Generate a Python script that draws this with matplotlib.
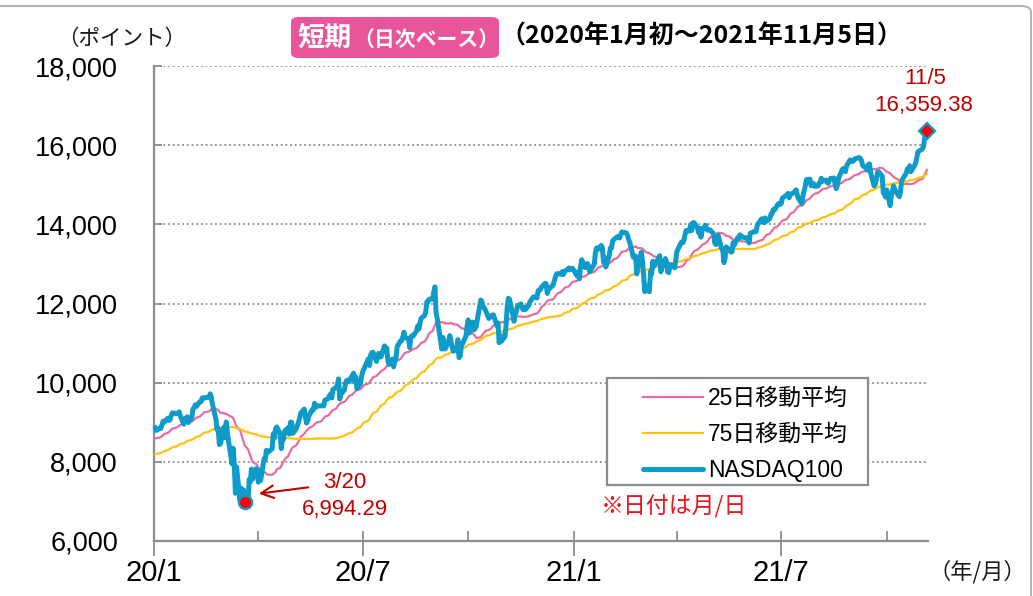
import numpy as np
import pandas as pd
import matplotlib
matplotlib.use("Agg")
import matplotlib.pyplot as plt
import matplotlib.dates as mdates
from matplotlib.patches import FancyBboxPatch, Rectangle
from matplotlib.ticker import FuncFormatter, FixedLocator
import datetime as dt

# ---------------- data (NASDAQ100 daily closes, read/estimated) ----------------
holidays = ["2019-11-28", "2019-12-25", "2020-01-01", "2020-01-20", "2020-02-17",
            "2020-04-10", "2020-05-25", "2020-07-03", "2020-09-07", "2020-11-26",
            "2020-12-25", "2021-01-01", "2021-01-18", "2021-02-15", "2021-04-02",
            "2021-05-31", "2021-07-05", "2021-09-06"]

# warm-up closes before the chart window (used only for moving averages)
c2019_09 = [7880, 7905, 7910, 7905, 7820, 7820, 7710, 7800, 7760, 7670, 7750]
c2019_10 = [7660, 7560, 7640, 7770, 7730, 7590, 7680, 7740, 7840, 7830, 7930, 7910,
            7940, 7860, 7920, 7860, 7880, 7960, 8020, 8100, 8060, 8090, 8080]
c2019_11 = [8160, 8200, 8200, 8190, 8230, 8260, 8240, 8270, 8280, 8290, 8350, 8360,
            8390, 8340, 8320, 8330, 8430, 8460, 8500, 8470]
c2019_12 = [8380, 8340, 8380, 8390, 8470, 8440, 8450, 8490, 8530, 8560, 8640, 8640,
            8640, 8700, 8730, 8760, 8760, 8820, 8810, 8700, 8730]

c2020_01 = [8872, 8793, 8848, 8846, 8935, 9030, 9005, 9100, 9046, 9060, 9173, 9236,
            9217, 9229, 9263, 9153, 8953, 9095, 9094, 9138, 8992]
c2020_02 = [9126, 9335, 9368, 9442, 9402, 9518, 9517, 9613, 9596, 9623, 9630, 9718,
            9629, 9447, 9079, 8812, 8850, 8437, 8462]
c2020_03 = [8877, 8611, 9008, 8738, 8530, 7948, 8344, 7952, 7205, 7873, 7020, 7334,
            7096, 7288, 6994.29, 7006, 7553, 7493, 7815, 7563, 7824, 7813]
c2020_04 = [7487, 7633, 7528, 8079, 8057, 8290, 8238, 8328, 8706, 8597, 8832, 8881,
            8716, 8332, 8587, 8569, 8781, 8860, 8700, 9003, 9000]
c2020_05 = [8719, 8834, 8917, 9001, 9106, 9232, 9335, 9138, 8978, 9041, 9152, 9321,
            9312, 9480, 9376, 9412, 9414, 9427, 9412, 9555]
c2020_06 = [9598, 9670, 9713, 9615, 9824, 9881, 9953, 10094, 9588, 9712, 9813, 9985,
            10053, 10061, 10026, 10182, 10238, 10025, 10147, 9849, 9975, 10157]
c2020_07 = [10279, 10341, 10605, 10434, 10706, 10757, 10768, 10536, 10680, 10742,
            10650, 10653, 10929, 10830, 10872, 10540, 10461, 10600, 10400, 10560,
            10590, 10905]
c2020_08 = [11055, 11063, 11151, 11275, 11139, 11109, 10887, 11155, 11186, 11178,
            11309, 11432, 11355, 11510, 11627, 11695, 11795, 12042, 12043, 12110, 12111]
c2020_09 = [12292, 12421, 11770, 11623, 10848, 11141, 10854, 10853, 11057, 11188,
            11048, 10910, 10793, 10845, 11086, 10633, 10672, 10913, 11117, 11167, 11418]
c2020_10 = [11583, 11255, 11530, 11332, 11365, 11420, 11600, 12088, 12046, 11919,
            11891, 11835, 11622, 11657, 11691, 11701, 11715, 11440, 11510, 11010,
            11190, 11052]
c2020_11 = [11160, 11440, 11900, 12130, 12110, 11710, 11550, 11800, 11780, 11940,
            11990, 11900, 11840, 11900, 11850, 11960, 12050, 12090, 12170, 12140]
c2020_12 = [12324, 12338, 12349, 12414, 12508, 12498, 12254, 12387, 12377, 12465,
            12565, 12659, 12743, 12756, 12740, 12807, 12733, 12805, 12899, 12850,
            12870, 12888]
c2021_01 = [12694, 12802, 12623, 12939, 13105, 12910, 12908, 13011, 12948, 12803,
            12997, 13297, 13404, 13366, 13467, 13420, 13052, 13162, 12925]
c2021_02 = [13210, 13403, 13403, 13580, 13612, 13687, 13695, 13654, 13728, 13807,
            13782, 13716, 13612, 13535, 13169, 13180, 13197, 12745, 12909]
c2021_03 = [13299, 13073, 12709, 12300, 12448, 12299, 12806, 12746, 13067, 12944,
            13091, 13150, 13208, 12800, 12902, 13136, 13047, 12796, 12780, 12977,
            12963, 12903, 13091]
c2021_04 = [13312, 13552, 13535, 13575, 13718, 13845, 13829, 13996, 13845, 14041,
            14041, 13914, 13786, 13900, 13675, 13845, 13980, 13880, 13849, 13860, 13860]
c2021_05 = [13761, 13531, 13488, 13600, 13720, 13385, 13359, 13032, 13133, 13430,
            13354, 13303, 13302, 13535, 13470, 13661, 13657, 13738, 13676, 13687]
c2021_06 = [13642, 13666, 13530, 13773, 13813, 13814, 13812, 13963, 14020, 14142,
            14072, 14040, 14161, 14075, 14140, 14253, 14271, 14369, 14360, 14500,
            14529, 14504]
c2021_07 = [14522, 14663, 14746, 14781, 14672, 14747, 14810, 14826, 14872, 14737,
            14652, 14518, 14731, 14845, 14973, 15129, 15142, 14977, 15026, 15038, 14960]
c2021_08 = [14964, 15042, 15053, 15164, 15091, 15116, 15060, 15036, 15104, 15160,
            15170, 15016, 14900, 14990, 15160, 15372, 15410, 15410, 15330, 15470,
            15626, 15583]
c2021_09 = [15600, 15600, 15653, 15688, 15660, 15610, 15490, 15420, 15370, 15510,
            15525, 15300, 14970, 15010, 15150, 15310, 15330, 15225, 14791, 14780, 14689]
c2021_10 = [14870, 14472, 14740, 14840, 14970, 14880, 14740, 14700, 14820, 15090,
            15150, 15290, 15400, 15390, 15480, 15330, 15470, 15530, 15640, 15810, 15850]
c2021_11 = [15900, 15960, 16150, 16345, 16359.38]

months = [("2019-09-16", "2019-09-30", c2019_09), ("2019-10-01", "2019-10-31", c2019_10),
          ("2019-11-01", "2019-11-30", c2019_11), ("2019-12-01", "2019-12-31", c2019_12),
          ("2020-01-01", "2020-01-31", c2020_01), ("2020-02-01", "2020-02-29", c2020_02),
          ("2020-03-01", "2020-03-31", c2020_03), ("2020-04-01", "2020-04-30", c2020_04),
          ("2020-05-01", "2020-05-31", c2020_05), ("2020-06-01", "2020-06-30", c2020_06),
          ("2020-07-01", "2020-07-31", c2020_07), ("2020-08-01", "2020-08-31", c2020_08),
          ("2020-09-01", "2020-09-30", c2020_09), ("2020-10-01", "2020-10-31", c2020_10),
          ("2020-11-01", "2020-11-30", c2020_11), ("2020-12-01", "2020-12-31", c2020_12),
          ("2021-01-01", "2021-01-31", c2021_01), ("2021-02-01", "2021-02-28", c2021_02),
          ("2021-03-01", "2021-03-31", c2021_03), ("2021-04-01", "2021-04-30", c2021_04),
          ("2021-05-01", "2021-05-31", c2021_05), ("2021-06-01", "2021-06-30", c2021_06),
          ("2021-07-01", "2021-07-31", c2021_07), ("2021-08-01", "2021-08-31", c2021_08),
          ("2021-09-01", "2021-09-30", c2021_09), ("2021-10-01", "2021-10-31", c2021_10),
          ("2021-11-01", "2021-11-05", c2021_11)]

x_tick_dates = ["2020-01-01", "2020-07-01", "2021-01-01", "2021-07-01"]
x_tick_labels = ["20/1", "20/7", "21/1", "21/7"]
x_minor_dates = ["2020-01-01", "2020-04-01", "2020-07-01", "2020-10-01",
                 "2021-01-01", "2021-04-01", "2021-07-01", "2021-10-01"]
y_ticks = [6000, 8000, 10000, 12000, 14000, 16000, 18000]
series_labels = ["25日移動平均", "75日移動平均", "NASDAQ100"]
low_label = ("3/20", "6,994.29")
last_label = ("11/5", "16,359.38")

# ---------------- build series ----------------
dates, vals = [], []
for start, end, v in months:
    d = pd.bdate_range(start, end, freq="C", holidays=holidays)
    if len(d) != len(v):
        d = pd.to_datetime(np.linspace(pd.Timestamp(start).value, pd.Timestamp(end).value, len(v)))
    dates.extend(list(d))
    vals.extend(v)
s = pd.Series(vals, index=pd.DatetimeIndex(dates))
ma25 = s.rolling(25, min_periods=1).mean()
ma75 = s.rolling(75, min_periods=1).mean()
win = s.index >= pd.Timestamp("2020-01-02")
s_w, m25_w, m75_w = s[win], ma25[win], ma75[win]

# ---------------- figure ----------------
W, H = 1033, 596
fig = plt.figure(figsize=(W / 100, H / 100), dpi=100)


def fx(x):
    return x / W


def fy(y):
    return 1 - y / H


ax = fig.add_axes([fx(154), fy(541), fx(928) - fx(154), fy(66) - fy(541)])

BLUE = "#0E9BC9"
PINK = "#EA6AA3"
YELLOW = "#FFC20E"
GRAY = "#8C8C8C"
DRED = "#C00000"

l25, = ax.plot(m25_w.index, m25_w.values, color=PINK, lw=1.6, zorder=3, clip_on=False)
l75, = ax.plot(m75_w.index, m75_w.values, color=YELLOW, lw=1.6, zorder=3, clip_on=False)
lnd, = ax.plot(s_w.index, s_w.values, color=BLUE, lw=3.6, zorder=4, clip_on=False,
               solid_joinstyle="round", solid_capstyle="round")

# low and last markers
imin = s_w.values.argmin()
ax.plot([s_w.index[imin]], [s_w.values[imin]], marker="o", ms=9.5, mfc="#FF0000",
        mec=BLUE, mew=1.6, zorder=6, ls="none", clip_on=False)
ax.plot([s_w.index[-1]], [s_w.values[-1]], marker="D", ms=8, mfc="#FF0000",
        mec=BLUE, mew=1.6, zorder=6, ls="none", clip_on=False)

ax.set_xlim(mdates.date2num(dt.datetime(2020, 1, 1)), mdates.date2num(dt.datetime(2021, 11, 6)))
ax.set_ylim(6000, 18000)

# grid
for yv in y_ticks[1:]:
    ax.axhline(yv, color=GRAY, lw=1.3, ls=(0, (1.0, 1.6)), zorder=1)

for side in ["top", "right"]:
    ax.spines[side].set_visible(False)
for side in ["left", "bottom"]:
    ax.spines[side].set_color(GRAY)
    ax.spines[side].set_linewidth(1.6)

ax.set_yticks(y_ticks)
ax.yaxis.set_major_formatter(FuncFormatter(lambda v, p: f"{int(v):,}"))
ax.tick_params(axis="y", direction="in", length=6, width=1.3, color=GRAY, pad=26,
               labelsize=19.5)
for t in ax.get_yticklabels():
    t.set_fontfamily("Liberation Sans")

ax.xaxis.set_major_locator(FixedLocator(mdates.date2num(pd.to_datetime(x_tick_dates))))
ax.set_xticklabels(x_tick_labels)
ax.xaxis.set_minor_locator(FixedLocator(mdates.date2num(pd.to_datetime(x_minor_dates))))
ax.xaxis.remove_overlapping_locs = False
ax.tick_params(axis="x", which="major", direction="out", length=11, width=1.3,
               color=GRAY, pad=2, labelsize=21)
ax.tick_params(axis="x", which="minor", direction="in", length=7, width=1.3, color=GRAY)
for t in ax.get_xticklabels():
    t.set_fontfamily("Liberation Sans")

# legend
leg = fig.legend([l25, l75, lnd], series_labels, loc="upper left",
                 bbox_to_anchor=(fx(643), fy(387)), bbox_transform=fig.transFigure,
                 frameon=False, borderpad=0, borderaxespad=0, handlelength=2.6,
                 handletextpad=0.25, labelspacing=0.56,
                 prop={"family": ["Liberation Sans", "Noto Sans CJK JP"], "size": 16.5})
fig.patches.append(Rectangle((fx(607), fy(485)), fx(868) - fx(607), fy(378) - fy(485),
                             transform=fig.transFigure, fill=True, fc="white",
                             ec=GRAY, lw=1.6, zorder=2))
leg.set_zorder(5)

# annotations
ax.annotate("", xy=(fx(256), fy(494)), xytext=(fx(311), fy(487)),
            xycoords="figure fraction", textcoords="figure fraction",
            arrowprops=dict(arrowstyle="->,head_length=0.9,head_width=0.45",
                            color=DRED, lw=1.5), zorder=7)
fig.text(fx(345), fy(483), low_label[0], color=DRED, fontsize=16, ha="center",
         va="center", family="Liberation Sans")
fig.text(fx(345), fy(509), low_label[1], color=DRED, fontsize=16, ha="center",
         va="center", family="Liberation Sans")
fig.text(fx(925), fy(78), last_label[0], color=DRED, fontsize=16, ha="center",
         va="center", family="Liberation Sans")
fig.text(fx(924), fy(105), last_label[1], color=DRED, fontsize=16, ha="center",
         va="center", family="Liberation Sans")
fig.text(fx(601), fy(507), "※日付は月/日", color="#E8141E", fontsize=16.5, ha="left",
         va="center", family=["Noto Sans CJK JP"])

# axis unit labels
fig.text(fx(122), fy(39), "（ポイント）", fontsize=15.5, ha="center", va="center",
         family=["Noto Sans CJK JP"], color="#1a1a1a")
fig.text(fx(977), fy(572), "（年/月）", fontsize=16, ha="center", va="center",
         family=["Noto Sans CJK JP"], color="#1a1a1a")

# title
fig.patches.append(FancyBboxPatch((fx(291), fy(58)), fx(499) - fx(291), fy(17) - fy(58),
                                  boxstyle="round,pad=0,rounding_size=0.008",
                                  transform=fig.transFigure, fc="#E9559B", ec="none"))
fig.text(fx(297), fy(38), "短期", fontsize=19.5, fontweight="bold", color="white",
         ha="left", va="center", family=["Noto Sans CJK JP"])
fig.text(fx(353), fy(39), "（日次ベース）", fontsize=15, fontweight="bold",
         color="white", ha="left", va="center", family=["Noto Sans CJK JP"])
fig.text(fx(500), fy(36), "（2020年1月初～2021年11月5日）", fontsize=18,
         fontweight="bold", color="black", ha="left", va="center",
         family=["Noto Sans CJK JP"])

# outer rounded frame
fig.patches.append(FancyBboxPatch((fx(-20), fy(620)), fx(1031) - fx(-20), fy(6) - fy(620),
                                  boxstyle="round,pad=0,rounding_size=0.01",
                                  transform=fig.transFigure, fc="none", ec="#B4B4B4",
                                  lw=1.5))

fig.savefig("out.png", dpi=100)
